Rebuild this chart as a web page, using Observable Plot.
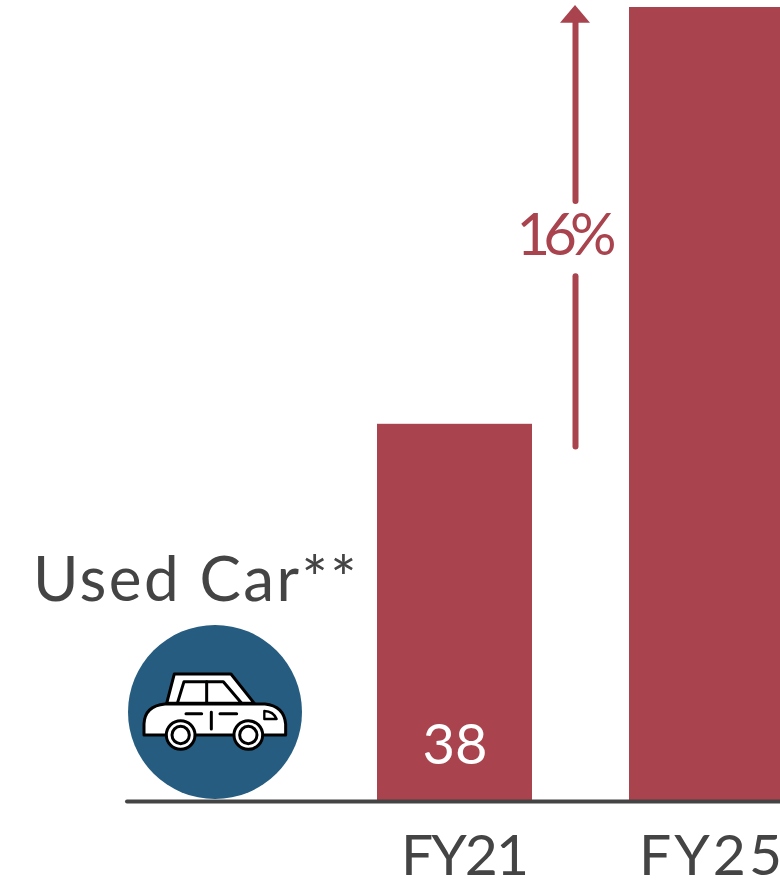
<!DOCTYPE html>
<html>
<head>
<meta charset="utf-8">
<style>
html,body{margin:0;padding:0;background:#fff;overflow:hidden}
svg{display:block}
.tight text{letter-spacing:-7px}
.wide text{letter-spacing:2.4px}
.narrowTick text{letter-spacing:-2px}
.wideTick text{letter-spacing:3px}
</style>
<script src="https://cdn.jsdelivr.net/npm/d3@7"></script>
<script src="https://cdn.jsdelivr.net/npm/@observablehq/plot@0.6"></script>
</head>
<body>
<div id="chart"></div>
<script>
const years = ["FY21", "FY25"];
const values = [38, 80.1];
const barLabels = ["38", ""];
const growthLabel = "16%";
const segmentLabel = "Used Car**";

const red = "#a9434e";
const ink = "#444444";
const font = "Lato, 'Noto Sans', sans-serif";
const rows = years.map((year, i) => ({year, value: values[i], label: barLabels[i]}));

function carIcon() {
  const g = d3.create("svg:g");
  g.append("circle").attr("cx", 215).attr("cy", 712).attr("r", 87).attr("fill", "#255c7f");
  const car = g.append("g")
    .attr("transform", "translate(120,620) scale(0.3333)")
    .attr("fill", "#fff").attr("stroke", "#000").attr("stroke-width", 9).attr("stroke-linejoin", "round").attr("stroke-linecap", "round");
  car.append("path").attr("d", "M140 250L163 162H333L403 250Z");
  car.append("path").attr("d", "M172 250L192 185H310L365 250Z");
  car.append("path").attr("d", "M260 185V250");
  car.append("path").attr("d", "M72 345V312Q74 258 135 252H435Q492 258 497 312V345Z");
  car.append("path").attr("d", "M198 281H245M300 281H350M274 277V327");
  car.append("path").attr("d", "M433 273Q460 274 470 297H433Z").attr("stroke-width", 7);
  for (const cx of [182, 385]) {
    car.append("circle").attr("cx", cx).attr("cy", 345).attr("r", 43);
    car.append("circle").attr("cx", cx).attr("cy", 345).attr("r", 26);
  }
  return g.node();
}

function arrowHead(index, {x, y}) {
  const cx = x("FY25") + x.bandwidth() / 2 - 131.5;
  const top = y(80.3), base = y(78.5);
  const p = d3.create("svg:polygon")
    .attr("points", `${cx},${top} ${cx + 15},${base} ${cx - 15},${base}`)
    .attr("fill", red);
  return p.node();
}

const chart = Plot.plot({
  width: 780,
  height: 884,
  margin: 0,
  style: {background: "#fff", overflow: "hidden"},
  x: {domain: years, range: [377, 784], paddingInner: 0.385, paddingOuter: 0, round: false, axis: null},
  y: {domain: [0, 80.1], range: [800, 7], axis: null},
  marks: [
    Plot.barY(rows, {x: "year", y: "value", fill: red}),
    Plot.ruleY([0], {stroke: ink, strokeWidth: 4, strokeLinecap: "round", insetLeft: 127, dy: 1}),
    Plot.text(rows, {x: "year", y: 0, text: "label", fill: "#fff", fontSize: 56, fontWeight: 400, fontFamily: font, dy: -54}),
    Plot.text(["FY21"], {x: d => d, y: 0, text: d => d, fill: ink, fontSize: 57, fontWeight: 400, fontFamily: font, dx: 9, dy: 56, className: "narrowTick"}),
    Plot.text(["FY25"], {x: d => d, y: 0, text: d => d, fill: ink, fontSize: 57, fontWeight: 400, fontFamily: font, dx: 5, dy: 56, className: "wideTick"}),
    Plot.ruleX(["FY25"], {x: d => d, y1: 35.7, y2: 52.9, stroke: red, strokeWidth: 6, strokeLinecap: "round", dx: -131.5}),
    Plot.ruleX(["FY25"], {x: d => d, y1: 60.5, y2: 79, stroke: red, strokeWidth: 6, strokeLinecap: "round", dx: -131.5}),
    arrowHead,
    Plot.text([growthLabel], {x: () => "FY25", y: () => 57, text: d => d, fill: red, fontSize: 58, fontWeight: 400, fontFamily: font, dx: -144, className: "tight"}),
    Plot.text([segmentLabel], {x: () => "FY21", y: () => 22.2, text: d => d, fill: ink, fontSize: 62, fontWeight: 400, fontFamily: font, dx: -259, className: "wide"}),
    carIcon
  ]
});
document.getElementById("chart").append(chart);
</script>
</body>
</html>
